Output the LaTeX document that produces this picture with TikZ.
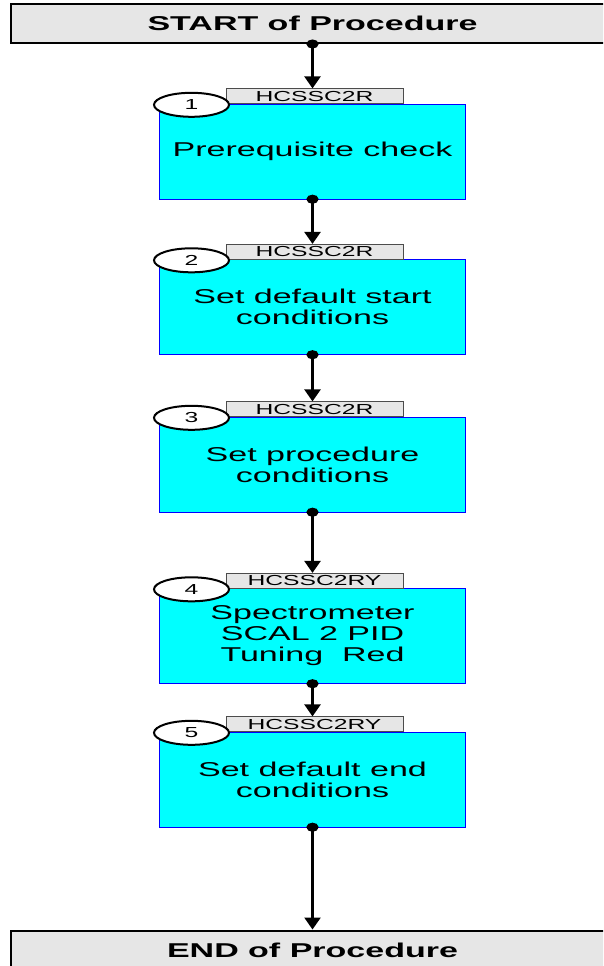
\documentclass[tikz,border=0pt]{standalone}
\usepackage{fontspec}
\setmainfont{Liberation Sans}[FakeStretch=1.7]
\usetikzlibrary{positioning,shapes.geometric,arrows.meta}

\definecolor{aqua}{RGB}{0,255,255}
\definecolor{tabgray}{RGB}{230,230,230}

\tikzset{
  stepbox/.style={draw=blue, fill=aqua, minimum width=306pt, minimum height=95pt,
    align=center, font=\fontsize{20}{21}\selectfont},
  tagbox/.style={draw=gray!60!black, fill=tabgray, minimum width=177pt,
    minimum height=15pt, inner sep=0pt, font=\fontsize{14.5}{15}\selectfont},
  numoval/.style={ellipse, draw=black, line width=2pt, fill=white,
    minimum width=75pt, minimum height=24pt, inner sep=0pt,
    font=\fontsize{14.5}{15}\selectfont},
  endbar/.style={draw=black, line width=2pt, fill=tabgray, minimum width=603pt,
    minimum height=39pt, font=\bfseries\fontsize{20}{21}\selectfont},
  flowline/.style={line width=2.5pt, shorten <=-4.5pt,
    {Circle[length=9pt,width=12pt]}-{Triangle[length=12pt,width=16pt]}}
}

\begin{document}
\begin{tikzpicture}[x=1pt,y=-1pt]
\useasboundingbox (0,0) rectangle (603,966);
\clip (0,0) rectangle (603,966);

\node[endbar] (start) at (312.5,23.5) {START of Procedure};
\node[endbar] (finish) at (312.5,950) {END of Procedure};

\node[stepbox] (b1) at (312.5,151.5) {Prerequisite check};
\node[stepbox] (b2) at (312.5,307) {Set default start\\conditions};
\node[stepbox] (b3) at (312.5,464.5) {Set procedure\\conditions};
\node[stepbox] (b4) at (312.5,636) {Spectrometer\\SCAL 2 PID\\Tuning\ \ Red};
\node[stepbox] (b5) at (312.5,779.5) {Set default end\\conditions};

\node[tagbox, above=0pt of b1, xshift=2pt] (t1) {HCSSC2R};
\node[tagbox, above=0pt of b2, xshift=2pt] (t2) {HCSSC2R};
\node[tagbox, above=0pt of b3, xshift=2pt] (t3) {HCSSC2R};
\node[tagbox, above=0pt of b4, xshift=2pt] (t4) {HCSSC2RY};
\node[tagbox, above=0pt of b5, xshift=2pt] (t5) {HCSSC2RY};

\node[numoval] (n1) at ([xshift=-121pt,yshift=-1pt]b1.north) {1};
\node[numoval] (n2) at ([xshift=-121pt,yshift=-1pt]b2.north) {2};
\node[numoval] (n3) at ([xshift=-121pt,yshift=-1pt]b3.north) {3};
\node[numoval] (n4) at ([xshift=-121pt,yshift=-1pt]b4.north) {4};
\node[numoval] (n5) at ([xshift=-121pt,yshift=-1pt]b5.north) {5};

\draw[flowline] (start.south) -- (start.south |- t1.north);
\draw[flowline] (b1.south) -- (b1.south |- t2.north);
\draw[flowline] (b2.south) -- (b2.south |- t3.north);
\draw[flowline] (b3.south) -- (b3.south |- t4.north);
\draw[flowline] (b4.south) -- (b4.south |- t5.north);
\draw[flowline] (b5.south) -- (b5.south |- finish.north);
\end{tikzpicture}
\end{document}
